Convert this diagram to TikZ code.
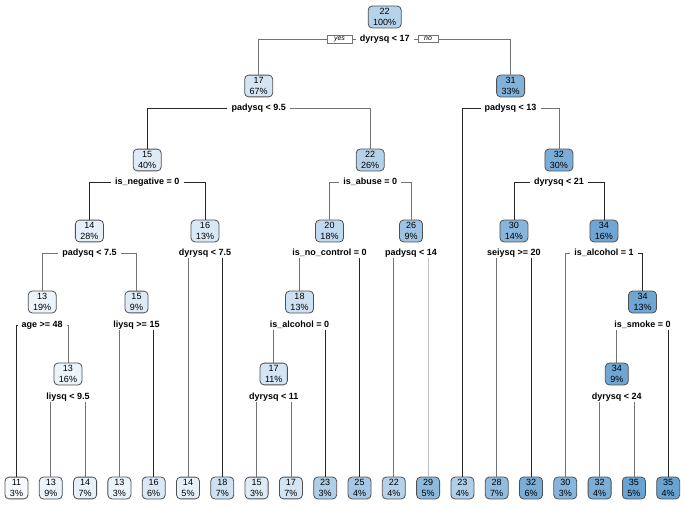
\documentclass[tikz,border=0pt]{standalone}
\usepackage{fontspec}
\setmainfont{Liberation Sans}
\definecolor{bl}{RGB}{105,163,210}
\definecolor{bw}{RGB}{246,250,255}
\definecolor{bd}{RGB}{80,80,80}
\tikzset{
  box/.style={draw=bd,line width=0.8pt,rounded corners=4pt,align=center,
    inner xsep=5pt,inner ysep=2.5pt,font=\fontsize{9}{10.5}\selectfont},
  f/.style={fill=bl!#1!bw},
  lab/.style={font=\fontsize{9}{10}\selectfont\bfseries,inner sep=1pt},
  yn/.style={draw=black!55,fill=white,line width=0.5pt,minimum width=#1,inner xsep=2pt,inner ysep=1.5pt,
    font=\fontsize{7}{7}\selectfont\itshape},
  dk/.style={draw=black!85,line width=0.7pt},
  md/.style={draw=black!55,line width=0.7pt},
  lg/.style={draw=black!25,line width=0.7pt}}
\begin{document}
\begin{tikzpicture}[x=1pt,y=-1pt]
\useasboundingbox (0,0) rectangle (685,508);
% internal nodes
\node[box,f=46] (r) at (384.7,17) {22\\100\%};
\node[lab] (lr) at (384.7,39) {dyrysq < 17};
\node[box,f=25] (a) at (258.7,86) {17\\67\%};
\node[lab] (la) at (258.7,108) {padysq < 9.5};
\node[box,f=83] (b) at (510.6,86) {31\\33\%};
\node[lab] (lb) at (510.6,108) {padysq < 13};
\node[box,f=17] (c) at (147.2,160) {15\\40\%};
\node[lab] (lc) at (147.2,182) {is\_negative = 0};
\node[box,f=46] (d) at (370.2,160) {22\\26\%};
\node[lab] (ld) at (370.2,182) {is\_abuse = 0};
\node[box,f=88] (e) at (558.9,160) {32\\30\%};
\node[lab] (le) at (558.9,182) {dyrysq < 21};
\node[box,f=12] (g) at (89.4,231) {14\\28\%};
\node[lab] (lbg) at (89.4,253) {padysq < 7.5};
\node[box,f=21] (h) at (205,231) {16\\13\%};
\node[lab] (lh) at (205,253) {dyrysq < 7.5};
\node[box,f=38] (i) at (329.5,231) {20\\18\%};
\node[lab] (li) at (329.5,253) {is\_no\_control = 0};
\node[box,f=62] (j) at (411,231) {26\\9\%};
\node[lab] (lj) at (411,253) {padysq < 14};
\node[box,f=79] (k) at (513.9,231) {30\\14\%};
\node[lab] (lk) at (513.9,253) {seiysq >= 20};
\node[box,f=96] (m) at (603.9,231) {34\\16\%};
\node[lab] (lm) at (603.9,253) {is\_alcohol = 1};
\node[box,f=8] (n) at (42.2,302) {13\\19\%};
\node[lab] (ln) at (42.2,325) {age >= 48};
\node[box,f=17] (o) at (136.5,302) {15\\9\%};
\node[lab] (lo) at (136.5,325) {liysq >= 15};
\node[box,f=29] (p) at (299.5,302) {18\\13\%};
\node[lab] (lp) at (299.5,325) {is\_alcohol = 0};
\node[box,f=96] (q) at (642.5,302) {34\\13\%};
\node[lab] (lq) at (642.5,325) {is\_smoke = 0};
\node[box,f=8] (s) at (68,374) {13\\16\%};
\node[lab] (ls) at (68,397) {liysq < 9.5};
\node[box,f=25] (t) at (273.7,374) {17\\11\%};
\node[lab] (ltt) at (273.7,397) {dyrysq < 11};
\node[box,f=96] (u) at (616.8,374) {34\\9\%};
\node[lab] (lu) at (616.8,397) {dyrysq < 24};
% leaves
\node[box,f=0]   (L0)  at (16.5,488)  {11\\3\%};
\node[box,f=8]   (L1)  at (50.8,488)  {13\\9\%};
\node[box,f=12]  (L2)  at (85.1,488)  {14\\7\%};
\node[box,f=8]   (L3)  at (119.4,488) {13\\3\%};
\node[box,f=21]  (L4)  at (153.7,488) {16\\6\%};
\node[box,f=12]  (L5)  at (188,488)   {14\\5\%};
\node[box,f=29]  (L6)  at (222.3,488) {18\\7\%};
\node[box,f=17]  (L7)  at (256.6,488) {15\\3\%};
\node[box,f=25]  (L8)  at (290.9,488) {17\\7\%};
\node[box,f=50]  (L9)  at (325.2,488) {23\\3\%};
\node[box,f=58]  (L10) at (359.5,488) {25\\4\%};
\node[box,f=46]  (L11) at (393.8,488) {22\\4\%};
\node[box,f=75]  (L12) at (428.1,488) {29\\5\%};
\node[box,f=50]  (L13) at (462.4,488) {23\\4\%};
\node[box,f=71]  (L14) at (496.7,488) {28\\7\%};
\node[box,f=88]  (L15) at (531,488)   {32\\6\%};
\node[box,f=79]  (L16) at (565.3,488) {30\\3\%};
\node[box,f=88]  (L17) at (599.6,488) {32\\4\%};
\node[box,f=100] (L18) at (633.9,488) {35\\5\%};
\node[box,f=100] (L19) at (668.2,488) {35\\4\%};
% horizontal branches
\draw[md] ([xshift=-3pt]lr.west) -| (a.north);
\draw[md] ([xshift=3pt]lr.east) -| (b.north);
\draw[dk] ([xshift=-3pt]la.west) -| (c.north);
\draw[md] ([xshift=3pt]la.east) -| (d.north);
\draw[dk] ([xshift=-3pt]lb.west) -| (L13.north);
\draw[md] ([xshift=3pt]lb.east) -| (e.north);
\draw[dk] ([xshift=-3pt]lc.west) -| (g.north);
\draw[dk] ([xshift=3pt]lc.east) -| (h.north);
\draw[md] ([xshift=-3pt]ld.west) -| (i.north);
\draw[md] ([xshift=3pt]ld.east) -| (j.north);
\draw[dk] ([xshift=-3pt]le.west) -| (k.north);
\draw[dk] ([xshift=3pt]le.east) -| (m.north);
\draw[md] ([xshift=-3pt]lbg.west) -| (n.north);
\draw[md] ([xshift=3pt]lbg.east) -| (o.north);
\draw[md] ([xshift=-3pt]lm.west) -| (L16.north);
\draw[dk] ([xshift=3pt]lm.east) -| (q.north);
\draw[dk] ([xshift=-3pt]ln.west) -| (L0.north);
\draw[md] ([xshift=3pt]ln.east) -| (s.north);
% vertical branches
\draw[md] (L5.north |- lh.south) -- (L5.north);
\draw[dk] (L6.north |- lh.south) -- (L6.north);
\draw[md] (p.north |- li.south) -- (p.north);
\draw[dk] (L10.north |- li.south) -- (L10.north);
\draw[md] (L11.north |- lj.south) -- (L11.north);
\draw[lg] (L12.north |- lj.south) -- (L12.north);
\draw[md] (L14.north |- lk.south) -- (L14.north);
\draw[dk] (L15.north |- lk.south) -- (L15.north);
\draw[md] (L3.north |- lo.south) -- (L3.north);
\draw[dk] (L4.north |- lo.south) -- (L4.north);
\draw[md] (t.north |- lp.south) -- (t.north);
\draw[dk] (L9.north |- lp.south) -- (L9.north);
\draw[md] (u.north |- lq.south) -- (u.north);
\draw[dk] (L19.north |- lq.south) -- (L19.north);
\draw[md] (L1.north |- ls.south) -- (L1.north);
\draw[md] (L2.north |- ls.south) -- (L2.north);
\draw[md] (L7.north |- ltt.south) -- (L7.north);
\draw[md] (L8.north |- ltt.south) -- (L8.north);
\draw[md] (L17.north |- lu.south) -- (L17.north);
\draw[md] (L18.north |- lu.south) -- (L18.north);
% yes / no
\node[yn=25pt] (yes) at (339.5,39) {yes};
\node[yn=20pt] (no) at (428,39) {no};
\end{tikzpicture}
\end{document}
